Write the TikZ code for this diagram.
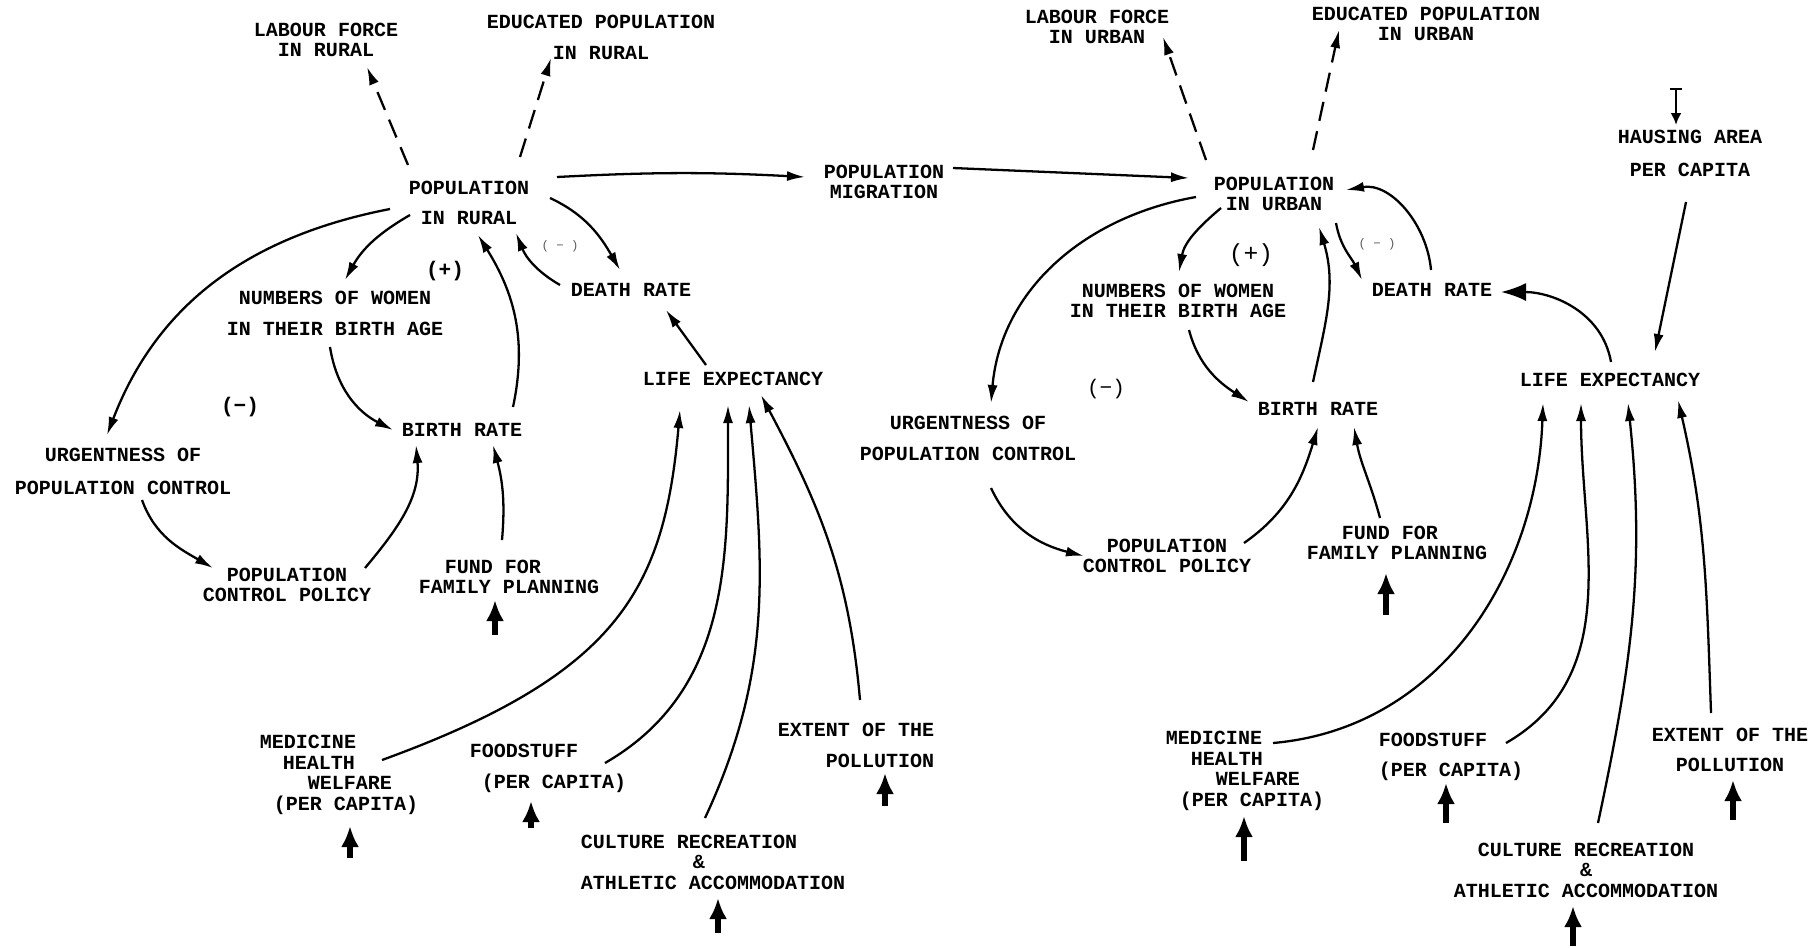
\documentclass[tikz,border=0pt]{standalone}
\usepackage{fontspec}
\setmainfont{Liberation Mono}
\usetikzlibrary{arrows.meta}

\begin{document}
\begin{tikzpicture}[x=0.02cm,y=0.02cm,
	lbl/.style={font=\fontsize{11.4}{11.7}\selectfont\bfseries, align=center, inner sep=1pt},
	sign/.style={font=\fontsize{12}{12}\selectfont\bfseries, inner sep=0pt},
	faint/.style={font=\fontsize{7}{7}\selectfont, text=black!65, inner sep=0pt}]
	\tikzstyle{link} = [-{Latex[length=3.6mm,width=2mm]}, line width=1.3pt]
	\tikzstyle{dashlink} = [link, dash pattern=on 11pt off 6pt]
	\tikzstyle{feed} = [-{Latex[length=4.2mm,width=3.6mm]}, line width=3.5pt]
	\useasboundingbox (0,0) rectangle (1811,-947);

	% rural side
	\node[lbl] (lfr) at (326,-40) {LABOUR FORCE\\IN RURAL};
	\node[lbl] (epr) at (601,-37) {EDUCATED POPULATION\\[6pt]IN RURAL};
	\node[lbl] (pr) at (469,-203) {POPULATION\\[5pt]IN RURAL};
	\node[lbl] (pm) at (884,-182) {POPULATION\\MIGRATION};
	\node[lbl] (nw) at (335,-313) {NUMBERS OF WOMEN\\[6pt]IN THEIR BIRTH AGE};
	\node[lbl] (dr) at (631,-290) {DEATH RATE};
	\node[lbl] (br) at (462,-430) {BIRTH RATE};
	\node[lbl] (le) at (733,-379) {LIFE EXPECTANCY};
	\node[lbl] (upc) at (123,-471) {URGENTNESS OF\\[7pt]POPULATION CONTROL};
	\node[lbl] (pcp) at (287,-585) {POPULATION\\CONTROL POLICY};
	\node[lbl,align=left] (ffp) at (509,-577) {\hspace*{0.52cm}FUND FOR\\FAMILY PLANNING};
	\node[lbl,align=left] (med) at (339,-775) {MEDICINE\\\hspace*{0.46cm}HEALTH\\\hspace*{0.96cm}WELFARE\\\hspace*{0.28cm}(PER CAPITA)};
	\node[lbl,align=left] (food) at (548,-768) {FOODSTUFF\\[6pt]\hspace*{0.24cm}(PER CAPITA)};
	\node[lbl,align=left] (cult) at (713,-862) {CULTURE RECREATION\\\hspace*{2.24cm}\&\\ATHLETIC ACCOMMODATION};
	\node[lbl,align=right] (ext) at (856,-745) {EXTENT OF THE\\[6pt]POLLUTION};
	\node[sign] (plusl) at (445,-271) {(+)};
	\node[sign] (minusl) at (240,-407) {(−)};
	\node[faint] (minusls) at (560,-246) {( − )};

	% urban side
	\node[lbl] (lfu) at (1097,-27) {LABOUR FORCE\\IN URBAN};
	\node[lbl] (epu) at (1426,-24) {EDUCATED POPULATION\\IN URBAN};
	\node[lbl] (pu) at (1274,-194) {POPULATION\\IN URBAN};
	\node[lbl] (hap) at (1690,-153) {HAUSING AREA\\[7pt]PER CAPITA};
	\node[lbl] (nwu) at (1178,-301) {NUMBERS OF WOMEN\\IN THEIR BIRTH AGE};
	\node[lbl] (dru) at (1432,-290) {DEATH RATE};
	\node[lbl] (bru) at (1318,-409) {BIRTH RATE};
	\node[lbl] (leu) at (1610,-380) {LIFE EXPECTANCY};
	\node[lbl] (upcu) at (968,-438) {URGENTNESS OF\\[6pt]POPULATION CONTROL};
	\node[lbl] (pcpu) at (1167,-556) {POPULATION\\CONTROL POLICY};
	\node[lbl,align=left] (ffpu) at (1397,-543) {\hspace*{0.7cm}FUND FOR\\FAMILY PLANNING};
	\node[lbl,align=left] (medu) at (1245,-771) {MEDICINE\\\hspace*{0.5cm}HEALTH\\\hspace*{1cm}WELFARE\\\hspace*{0.28cm}(PER CAPITA)};
	\node[lbl,align=left] (foodu) at (1451,-757) {FOODSTUFF\\[5pt](PER CAPITA)};
	\node[lbl] (cultu) at (1586,-870) {CULTURE RECREATION\\\&\\ATHLETIC ACCOMMODATION};
	\node[lbl] (extu) at (1730,-750) {EXTENT OF THE\\[5pt]POLLUTION};
	\node[sign,font=\fontsize{14}{14}\selectfont] (plusr) at (1251,-255) {(+)};
	\node[sign,font=\fontsize{12}{12}\selectfont] (minusr) at (1106,-389) {(−)};
	\node[faint] (minusrs) at (1377,-244) {( − )};

	% outside inputs
	\coordinate (ffpin) at (495,-635);
	\coordinate (medin) at (350,-858);
	\coordinate (foodin) at (531,-828);
	\coordinate (cultin) at (718,-933);
	\coordinate (extin) at (885,-806);
	\coordinate (hapin) at (1676,-88);
	\coordinate (ffpuin) at (1386,-615);
	\coordinate (meduin) at (1244,-861);
	\coordinate (fooduin) at (1446,-823);
	\coordinate (cultuin) at (1573,-946);
	\coordinate (extuin) at (1733,-820);

	% rural links
	\draw[dashlink] ([shift={(-61,38)}]pr.center) -- ([shift={(41,-27)}]lfr.center);
	\draw[dashlink] ([shift={(51,46)}]pr.center) -- ([shift={(-50,-21)}]epr.center);
	\draw[link] ([shift={(88,26)}]pr.center) to[bend left=3] ([shift={(-79,5)}]pm.center);
	\draw[link] ([shift={(-59,-12)}]pr.center) to[out=210,in=61] ([shift={(10,33)}]nw.center);
	\draw[link] ([shift={(-79,-6)}]pr.center) to[out=191,in=69] ([shift={(-16,36)}]upc.center);
	\draw[link] ([shift={(-5,-34)}]nw.center) to[out=-81,in=153] ([shift={(-69,0)}]br.center);
	\draw[link] ([shift={(51,23)}]br.center) to[out=78,in=-58] ([shift={(9,-32)}]pr.center);
	\draw[link] ([shift={(-71,5)}]dr.center) to[out=150,in=-68] ([shift={(47,-30)}]pr.center);
	\draw[link] ([shift={(81,5)}]pr.center) to[out=-25,in=120] ([shift={(-11,20)}]dr.center);
	\draw[link] ([shift={(-27,14)}]le.center) -- ([shift={(35,-20)}]dr.center);
	\draw[link] ([shift={(19,-29)}]upc.center) to[out=-70,in=150] ([shift={(-74,17)}]pcp.center);
	\draw[link] ([shift={(78,17)}]pcp.center) to[out=50,in=-85] ([shift={(-46,-15)}]br.center);
	\draw[link] ([shift={(-7,37)}]ffp.center) to[out=85,in=-75] ([shift={(31,-15)}]br.center);
	\draw[link] ([shift={(43,15)}]med.center) to[out=20,in=-95,out looseness=1.4] ([shift={(-53,-31)}]le.center);
	\draw[link] ([shift={(57,5)}]food.center) to[out=30,in=-90] ([shift={(-5,-26)}]le.center);
	\draw[link] ([shift={(-8,44)}]cult.center) to[out=65,in=-85] ([shift={(16,-26)}]le.center);
	\draw[link] ([shift={(4,45)}]ext.center) to[out=95,in=-62] ([shift={(28,-16)}]le.center);

	% migration
	\draw[link] ([shift={(69,14)}]pm.center) -- ([shift={(-85,16)}]pu.center);

	% urban links
	\draw[dashlink] ([shift={(-68,34)}]pu.center) -- ([shift={(66,-10)}]lfu.center);
	\draw[dashlink] ([shift={(39,44)}]pu.center) -- ([shift={(-87,-6)}]epu.center);
	\draw[link] ([shift={(-78,-3)}]pu.center) to[out=190,in=85] ([shift={(23,35)}]upcu.center);
	\draw[link] ([shift={(-53,-14)}]pu.center) to[out=220,in=80] ([shift={(1,29)}]nwu.center);
	\draw[link] ([shift={(11,-29)}]nwu.center) to[out=-75,in=147] ([shift={(-69,7)}]bru.center);
	\draw[link] ([shift={(-5,27)}]bru.center) to[out=78,in=-73] ([shift={(45,-33)}]pu.center);
	\draw[link] ([shift={(62,-29)}]pu.center) to[out=-80,in=115] ([shift={(-70,10)}]dru.center);
	\draw[link] ([shift={(-1,20)}]dru.center) to[out=95,in=10] ([shift={(72,4)}]pu.center);
	\draw[link,-{Latex[length=5mm,width=3.6mm]}] ([shift={(1,18)}]leu.center) to[out=100,in=0] ([shift={(69,-2)}]dru.center);
	\draw[link] ([shift={(-4,-49)}]hap.center) -- ([shift={(45,28)}]leu.center);
	\draw[link] ([shift={(23,-50)}]upcu.center) to[out=-65,in=166] ([shift={(-83,0)}]pcpu.center);
	\draw[link] ([shift={(77,13)}]pcpu.center) to[out=35,in=-107] ([shift={(0,-18)}]bru.center);
	\draw[link] ([shift={(-17,25)}]ffpu.center) to[out=105,in=-80] ([shift={(36,-18)}]bru.center);
	\draw[link] ([shift={(28,28)}]medu.center) to[out=5,in=-92] ([shift={(-67,-23)}]leu.center);
	\draw[link] ([shift={(55,14)}]foodu.center) to[out=30,in=-90] ([shift={(-29,-23)}]leu.center);
	\draw[link] ([shift={(12,47)}]cultu.center) to[out=78,in=-84] ([shift={(18,-23)}]leu.center);
	\draw[link] ([shift={(-19,37)}]extu.center) to[out=92,in=-77] ([shift={(68,-20)}]leu.center);

	% inputs from outside
	\draw[feed] (ffpin) -- ([shift={(-14,-23)}]ffp.center);
	\draw[feed] (medin) -- ([shift={(11,-51)}]med.center);
	\draw[feed] (foodin) -- ([shift={(-17,-33)}]food.center);
	\draw[feed] (cultin) -- ([shift={(5,-36)}]cult.center);
	\draw[feed] (extin) -- ([shift={(29,-28)}]ext.center);
	\draw[{Bar[width=2.4mm]}-{Latex[length=2.4mm,width=2.2mm]}, line width=1.4pt] (hapin) -- ([shift={(-14,28)}]hap.center);
	\draw[feed] (ffpuin) -- ([shift={(-11,-30)}]ffpu.center);
	\draw[feed] (meduin) -- ([shift={(-1,-45)}]medu.center);
	\draw[feed] (fooduin) -- ([shift={(-5,-26)}]foodu.center);
	\draw[feed] (cultuin) -- ([shift={(-13,-36)}]cultu.center);
	\draw[feed] (extuin) -- ([shift={(3,-30)}]extu.center);
\end{tikzpicture}
\end{document}
